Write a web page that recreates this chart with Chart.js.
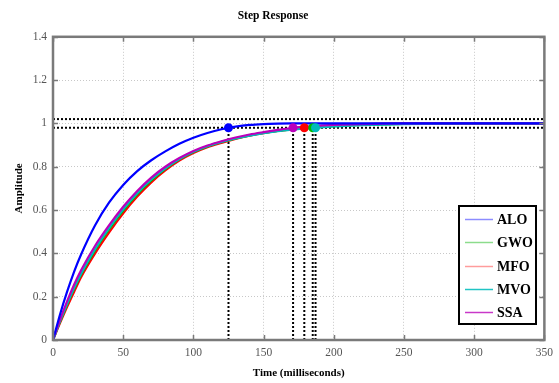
<!DOCTYPE html>
<html>
<head>
<meta charset="utf-8">
<script src="https://cdn.jsdelivr.net/npm/chart.js@4.4.1/dist/chart.umd.min.js"></script>
<style>
html,body{margin:0;padding:0;background:#fff;}
#wrap{width:559px;height:383px;position:relative;}
</style>
</head>
<body>
<div id="wrap"><canvas id="c" width="559" height="383"></canvas></div>
<script>
// ---- data ----
const seriesNames = ['ALO', 'GWO', 'MFO', 'MVO', 'SSA'];
const seriesColors = ['#0000ff', '#00bb00', '#ff0000', '#00bbbb', '#bb00bb'];
const legendLineColors = ['#8c8cff', '#8cdc8c', '#ff9c9c', '#20c4c4', '#c838c8'];
const times = [0, 5, 10, 15, 20, 30, 40, 50, 60, 70, 80, 90, 100, 110, 120, 130, 140, 150, 160, 170, 180, 190, 200, 220, 250, 300, 350];
const aloValues = [0, 0.118, 0.222, 0.315, 0.395, 0.53, 0.635, 0.716, 0.78, 0.83, 0.871, 0.906, 0.934, 0.956, 0.973, 0.985, 0.993, 0.997, 0.999, 1.0, 1.0, 1.0, 1.0, 1.0, 1.0, 1.0, 1.0];
const gwoValues = [0, 0.085, 0.163, 0.236, 0.302, 0.415, 0.512, 0.598, 0.673, 0.737, 0.79, 0.834, 0.868, 0.894, 0.914, 0.931, 0.945, 0.956, 0.965, 0.972, 0.978, 0.983, 0.987, 0.993, 0.998, 1.0, 1.0];
const mfoValues = [0, 0.078, 0.152, 0.222, 0.29, 0.40, 0.497, 0.585, 0.662, 0.728, 0.783, 0.828, 0.863, 0.89, 0.91, 0.928, 0.943, 0.955, 0.965, 0.973, 0.9805, 0.986, 0.99, 0.996, 0.999, 1.0, 1.0];
const mvoValues = [0, 0.087, 0.166, 0.24, 0.306, 0.42, 0.518, 0.604, 0.678, 0.741, 0.793, 0.836, 0.869, 0.895, 0.915, 0.931, 0.944, 0.955, 0.964, 0.971, 0.977, 0.982, 0.986, 0.992, 0.997, 1.0, 1.0];
const ssaValues = [0, 0.093, 0.178, 0.255, 0.322, 0.435, 0.53, 0.615, 0.688, 0.75, 0.80, 0.84, 0.873, 0.898, 0.918, 0.935, 0.949, 0.96, 0.97, 0.979, 0.985, 0.99, 0.993, 0.997, 1.0, 1.0, 1.0];
const settleTimes = [125, 185, 179, 187, 171];   // ALO, GWO, MFO, MVO, SSA
const settleLevel = 0.98;
const bandLevels = [0.98, 1.02];
const xTicks = [0, 50, 100, 150, 200, 250, 300, 350];
const yTicks = [0, 0.2, 0.4, 0.6, 0.8, 1, 1.2, 1.4];
const yTickLabels = ['0', '0.2', '0.4', '0.6', '0.8', '1', '1.2', '1.4'];

const allValues = [aloValues, gwoValues, mfoValues, mvoValues, ssaValues];
const serif = '"Liberation Serif", "Times New Roman", serif';

const datasets = [];
// settling band lines
bandLevels.forEach(b => datasets.push({
  data: [{x: xTicks[0], y: b}, {x: xTicks[xTicks.length - 1], y: b}],
  borderColor: '#000', borderWidth: 2, borderDash: [2, 2], pointRadius: 0, order: 50
}));
// vertical settling-time lines
settleTimes.forEach(t => datasets.push({
  data: [{x: t, y: 0}, {x: t, y: settleLevel}],
  borderColor: '#000', borderWidth: 2, borderDash: [2, 2], pointRadius: 0, order: 40
}));
// curves (SSA on top)
const curveOrder = [20, 24, 25, 23, 21];
allValues.forEach((vals, i) => datasets.push({
  label: seriesNames[i],
  data: times.map((t, k) => ({x: t, y: vals[k]})),
  borderColor: seriesColors[i], borderWidth: 2.2, pointRadius: 0,
  cubicInterpolationMode: 'monotone', order: curveOrder[i]
}));
// settling markers
const markerOrder = [5, 3, 4, 2, 6];
settleTimes.forEach((t, i) => datasets.push({
  data: [{x: t, y: settleLevel}],
  showLine: false, pointRadius: 4.5, pointBackgroundColor: seriesColors[i],
  pointBorderColor: seriesColors[i], pointBorderWidth: 0, order: markerOrder[i]
}));

const frameColor = '#7a7a7a';
const framePlugin = {
  id: 'frame',
  afterDatasetsDraw(chart) {
    const {ctx, chartArea: a, scales: {x, y}} = chart;
    ctx.save();
    ctx.strokeStyle = frameColor;
    ctx.lineWidth = 1.5;
    ctx.beginPath();
    xTicks.forEach(v => {
      const px = Math.round(x.getPixelForValue(v)) + 0.5;
      ctx.moveTo(px, a.bottom); ctx.lineTo(px, a.bottom - 5);
      ctx.moveTo(px, a.top); ctx.lineTo(px, a.top + 5);
    });
    yTicks.forEach(v => {
      const py = Math.round(y.getPixelForValue(v)) + 0.5;
      ctx.moveTo(a.left, py); ctx.lineTo(a.left + 5, py);
      ctx.moveTo(a.right, py); ctx.lineTo(a.right - 5, py);
    });
    ctx.stroke();
    ctx.lineWidth = 2.5;
    ctx.strokeRect(a.left, a.top, a.right - a.left, a.bottom - a.top);
    // legend
    const bw = 77, bh = 118;
    const bx = Math.round(a.right - 8 - bw), by = Math.round(a.bottom - 16 - bh);
    ctx.fillStyle = '#fff';
    ctx.fillRect(bx, by, bw, bh);
    ctx.strokeStyle = '#000';
    ctx.lineWidth = 2;
    ctx.strokeRect(bx, by, bw, bh);
    ctx.font = 'bold 14px ' + serif;
    ctx.textBaseline = 'middle';
    ctx.textAlign = 'left';
    seriesNames.forEach((n, i) => {
      const cy = Math.round(by + 13 + i * 23.3) + 0.5;
      ctx.strokeStyle = legendLineColors[i];
      ctx.lineWidth = 1.5;
      ctx.beginPath();
      ctx.moveTo(bx + 6, cy); ctx.lineTo(bx + 34, cy);
      ctx.stroke();
      ctx.fillStyle = '#000';
      ctx.fillText(n, bx + 38, cy + 1);
    });
    ctx.restore();
  }
};

new Chart(document.getElementById('c'), {
  type: 'line',
  data: {datasets},
  plugins: [framePlugin],
  options: {
    responsive: false,
    animation: false,
    layout: {padding: {left: 0, right: 13, top: 0, bottom: 0}},
    plugins: {
      legend: {display: false},
      tooltip: {enabled: false},
      title: {
        display: true, text: 'Step Response', color: '#000',
        font: {family: serif, size: 11.5, weight: 'bold'},
        padding: {top: 9, bottom: 14}
      }
    },
    scales: {
      x: {
        type: 'linear', min: 0, max: 350,
        afterBuildTicks: s => { s.ticks = xTicks.map(v => ({value: v})); },
        afterFit: s => { s.height = 43; },
        grid: {color: '#c8c8c8', drawTicks: false},
        border: {display: false, dash: [1, 2]},
        ticks: {color: '#555', font: {family: serif, size: 11.5}, padding: 6, maxRotation: 0},
        title: {display: true, text: 'Time (milliseconds)', color: '#000',
          font: {family: serif, size: 11, weight: 'bold'}, padding: {top: 0, bottom: 3}}
      },
      y: {
        type: 'linear', min: 0, max: 1.4,
        afterBuildTicks: s => { s.ticks = yTicks.map(v => ({value: v})); },
        afterFit: s => { s.width = 53; },
        grid: {color: '#c8c8c8', drawTicks: false},
        border: {display: false, dash: [1, 2]},
        ticks: {color: '#555', font: {family: serif, size: 11.5}, padding: 6,
          callback: (v, i) => yTickLabels[i]},
        title: {display: true, text: 'Amplitude', color: '#000',
          font: {family: serif, size: 11, weight: 'bold'}, padding: {top: 13, bottom: 0}}
      }
    }
  }
});
</script>
</body>
</html>
